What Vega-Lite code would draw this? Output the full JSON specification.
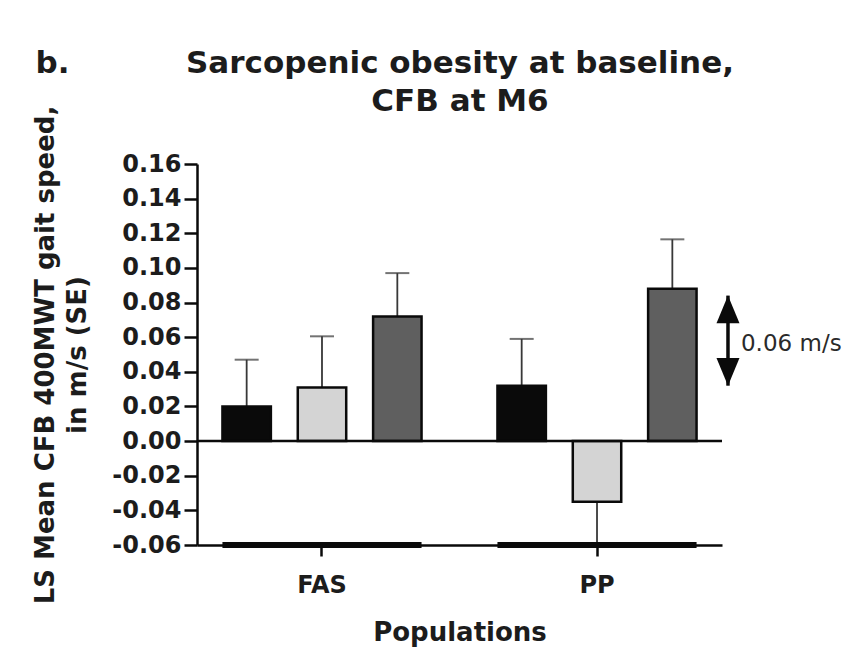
{
  "$schema": "https://vega.github.io/schema/vega-lite/v6.json",
  "autosize": "none",
  "width": 525,
  "height": 381,
  "padding": {"left": 197, "top": 164, "right": 143, "bottom": 113},
  "background": "white",
  "config": {
    "view": {"stroke": null},
    "font": "DejaVu Sans",
    "axis": {"labelOverlap": false, "grid": false},
    "locale": {"number": {"decimal": ".", "thousands": ",", "grouping": [3], "currency": ["$", ""], "minus": "-"}}
  },
  "datasets": {
    "bars": [
      {"population": "FAS", "group": "g1", "mean": 0.020, "se_end": 0.047},
      {"population": "FAS", "group": "g2", "mean": 0.031, "se_end": 0.0605},
      {"population": "FAS", "group": "g3", "mean": 0.072, "se_end": 0.097},
      {"population": "PP", "group": "g1", "mean": 0.032, "se_end": 0.059},
      {"population": "PP", "group": "g2", "mean": -0.035, "se_end": -0.06},
      {"population": "PP", "group": "g3", "mean": 0.088, "se_end": 0.1165}
    ],
    "populations": [{"population": "FAS"}, {"population": "PP"}],
    "difference": [{"pos": 1.0114, "low": 0.032, "high": 0.084, "label": "0.06 m/s"}]
  },
  "layer": [
    {
      "layer": [
        {
          "data": {"name": "bars"},
          "mark": {"type": "rule", "color": "#383838", "strokeWidth": 1.8},
          "encoding": {
            "x": {
              "field": "population",
              "type": "nominal",
              "scale": {"paddingInner": 0.276, "paddingOuter": 0.0925},
              "axis": {
                "title": "Populations",
                "labelAngle": 0,
                "labelFont": "DejaVu Sans",
                "labelFontSize": 24,
                "labelFontWeight": "bold",
                "labelColor": "#1c1c1c",
                "labelPadding": 17,
                "tickSize": 11,
                "tickWidth": 2.5,
                "tickColor": "#0a0a0a",
                "domainColor": "#0a0a0a",
                "domainWidth": 2.5,
                "titleFont": "DejaVu Sans",
                "titleFontSize": 26,
                "titleFontWeight": "bold",
                "titleColor": "#1c1c1c",
                "titlePadding": 22
              }
            },
            "xOffset": {
              "field": "group",
              "type": "nominal",
              "scale": {"paddingInner": 0.357, "paddingOuter": 0}
            },
            "y": {
              "field": "mean",
              "type": "quantitative",
              "scale": {"domain": [-0.06, 0.16], "nice": false},
              "axis": {
                "values": [-0.06, -0.04, -0.02, 0, 0.02, 0.04, 0.06, 0.08, 0.1, 0.12, 0.14, 0.16],
                "tickCount": 12,
                "format": ".2f",
                "labelFont": "DejaVu Sans",
                "labelFontSize": 24,
                "labelFontWeight": "bold",
                "labelColor": "#1c1c1c",
                "labelPadding": 3,
                "labelFlush": false,
                "labelOverlap": false,
                "tickSize": 13,
                "tickWidth": 2.5,
                "tickColor": "#0a0a0a",
                "domainColor": "#0a0a0a",
                "domainWidth": 2.5,
                "title": ["LS Mean CFB 400MWT gait speed,", "in m/s (SE)"],
                "titleFont": "DejaVu Sans",
                "titleFontSize": 26,
                "titleFontWeight": "bold",
                "titleColor": "#1c1c1c",
                "titleLineHeight": 32,
                "titleBaseline": "alphabetic",
                "titleX": -144
              }
            },
            "y2": {"field": "se_end"}
          }
        },
        {
          "data": {"name": "bars"},
          "mark": {"type": "tick", "color": "#383838", "thickness": 2, "size": 24},
          "encoding": {
            "x": {"field": "population", "type": "nominal"},
            "xOffset": {"field": "group", "type": "nominal"},
            "y": {"field": "se_end", "type": "quantitative"}
          }
        },
        {
          "data": {"name": "bars"},
          "mark": {"type": "bar", "stroke": "#0a0a0a", "strokeWidth": 2.5},
          "encoding": {
            "x": {"field": "population", "type": "nominal"},
            "xOffset": {"field": "group", "type": "nominal"},
            "y": {"field": "mean", "type": "quantitative"},
            "y2": {"datum": 0},
            "fill": {
              "field": "group",
              "type": "nominal",
              "scale": {"domain": ["g1", "g2", "g3"], "range": ["#0a0a0a", "#d4d4d4", "#5f5f5f"]},
              "legend": null
            }
          }
        },
        {
          "data": {"name": "populations"},
          "mark": {"type": "bar", "color": "#0a0a0a"},
          "encoding": {
            "x": {"field": "population", "type": "nominal"},
            "y": {"datum": -0.0583, "type": "quantitative"},
            "y2": {"datum": -0.0617}
          }
        },
        {
          "data": {"values": [{"level": 0}]},
          "mark": {"type": "rule", "color": "#0a0a0a", "strokeWidth": 2.5},
          "encoding": {
            "y": {"field": "level", "type": "quantitative"}
          }
        }
      ]
    },
    {
      "data": {"name": "difference"},
      "layer": [
        {
          "mark": {"type": "rule", "color": "#0a0a0a", "strokeWidth": 3.5},
          "encoding": {
            "x": {
              "field": "pos",
              "type": "quantitative",
              "scale": {"domain": [0, 1], "nice": false, "zero": false},
              "axis": {
                "orient": "top",
                "title": ["Sarcopenic obesity at baseline,", "CFB at M6"],
                "labels": false,
                "ticks": false,
                "domain": false,
                "titleFont": "DejaVu Sans",
                "titleFontSize": 31,
                "titleFontWeight": "bold",
                "titleColor": "#1c1c1c",
                "titleLineHeight": 38,
                "titleAlign": "center",
                "titleBaseline": "alphabetic",
                "titleX": 262.5,
                "titleY": -92
              }
            },
            "y": {
              "field": "low",
              "type": "quantitative",
              "scale": {"domain": [-0.06, 0.16], "nice": false},
              "axis": {
                "orient": "right",
                "title": "b.",
                "labels": false,
                "ticks": false,
                "domain": false,
                "titleAngle": 0,
                "titleFont": "DejaVu Sans",
                "titleFontSize": 31,
                "titleFontWeight": "bold",
                "titleColor": "#1c1c1c",
                "titleAlign": "left",
                "titleBaseline": "alphabetic",
                "titleX": -687,
                "titleY": -92
              }
            },
            "y2": {"field": "high"}
          }
        },
        {
          "mark": {"type": "point", "shape": "M0,0L-1,2.4L1,2.4Z", "filled": true, "size": 529, "color": "#0a0a0a", "opacity": 1},
          "encoding": {
            "x": {"field": "pos", "type": "quantitative"},
            "y": {"field": "high", "type": "quantitative"}
          }
        },
        {
          "mark": {"type": "point", "shape": "M0,0L-1,-2.4L1,-2.4Z", "filled": true, "size": 529, "color": "#0a0a0a", "opacity": 1},
          "encoding": {
            "x": {"field": "pos", "type": "quantitative"},
            "y": {"field": "low", "type": "quantitative"}
          }
        },
        {
          "mark": {"type": "text", "align": "left", "baseline": "middle", "dx": 13, "font": "DejaVu Sans", "fontSize": 23, "color": "#2a2a2a"},
          "encoding": {
            "x": {"field": "pos", "type": "quantitative"},
            "y": {"datum": 0.056, "type": "quantitative"},
            "text": {"field": "label"}
          }
        }
      ]
    }
  ],
  "resolve": {
    "scale": {"x": "independent", "y": "independent"},
    "axis": {"x": "independent", "y": "independent"}
  }
}
